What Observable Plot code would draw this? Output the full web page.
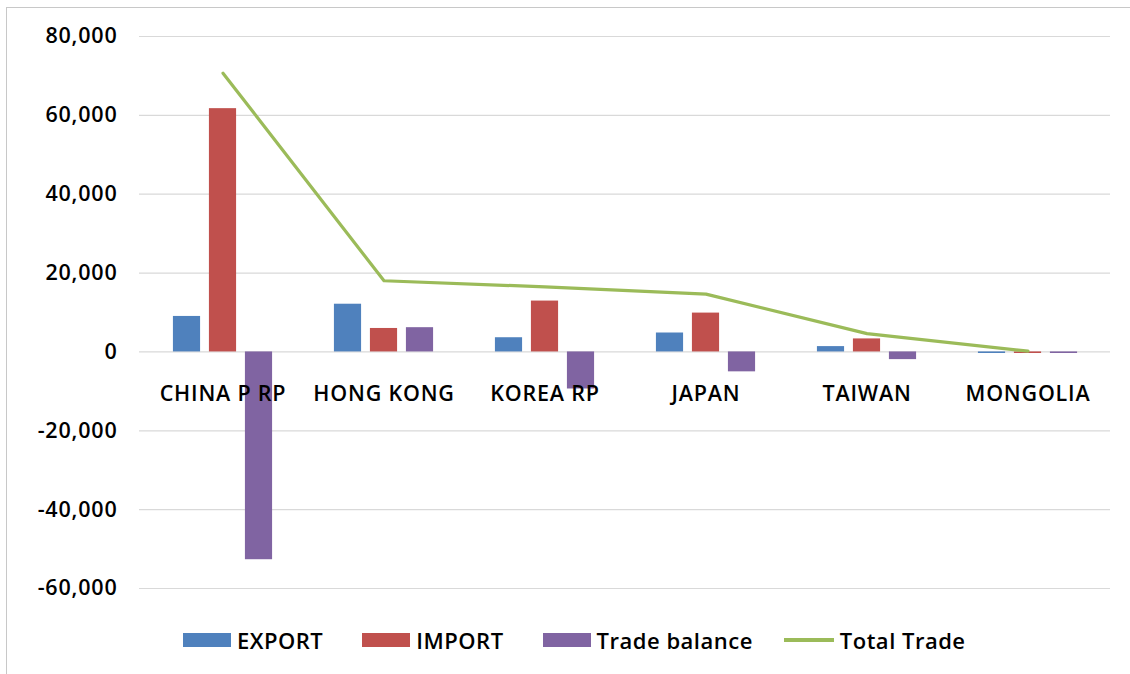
<!DOCTYPE html>
<html>
<head>
<meta charset="utf-8">
<script src="https://cdn.jsdelivr.net/npm/d3@7"></script>
<script src="https://cdn.jsdelivr.net/npm/@observablehq/plot@0.6"></script>
<style>
  html, body { margin: 0; padding: 0; background: #fff; }
  #wrap { position: relative; width: 1130px; height: 674px; overflow: hidden; font-family: "Open Sans", sans-serif; }
  #frame { position: absolute; left: 6px; top: 7px; width: 1200px; height: 700px; border-left: 1px solid #c8c8c8; border-top: 1px solid #c8c8c8; }
  #chart { position: absolute; left: 0; top: 0; }
  #legend { position: absolute; left: 183px; top: 625px; display: flex; align-items: center; font-family: "Open Sans", sans-serif; font-weight: 600; font-size: 22px; letter-spacing: 0.5px; color: #000; }
  .item { display: flex; align-items: center; margin-right: 39px; }
  .sw { width: 48px; height: 14px; margin-right: 6px; }
  .ln { width: 50px; height: 4px; margin-right: 6px; }
</style>
</head>
<body>
<div id="wrap">
  <div id="frame"></div>
  <div id="chart"></div>
  <div id="legend"></div>
</div>
<script>
const categories = ["CHINA P RP", "HONG KONG", "KOREA RP", "JAPAN", "TAIWAN", "MONGOLIA"];
const exportVals  = [9000, 12100, 3600, 4800, 1350, -400];
const importVals  = [61700, 5950, 12900, 9850, 3300, -400];
const balanceVals = [-52700, 6150, -9400, -5050, -1950, -400];
const totalVals   = [70700, 18050, 16500, 14650, 4650, 200];
const yTicks = [-60000, -40000, -20000, 0, 20000, 40000, 60000, 80000];
const seriesNames = ["EXPORT", "IMPORT", "Trade balance", "Total Trade"];
const colors = ["#4F81BD", "#C0504D", "#8064A2", "#9BBB59"];

const rows = (vals) => categories.map((c, i) => ({cat: c, value: vals[i]}));
const fmt = d3.formatLocale({decimal: ".", thousands: ",", grouping: [3], currency: ["", ""], minus: "-"}).format(",");

const W = 1130, H = 600;
const mL = 139, mR = 20, mT = 36, mB = 12;
const bw = (W - mL - mR) / categories.length;
const barW = 28, gap = 8;
// offsets of each bar's left edge relative to band center
const offs = [-1.5 * barW - gap, -0.5 * barW, 0.5 * barW + gap];
const inset = (k) => ({insetLeft: bw / 2 + offs[k], insetRight: bw / 2 - offs[k] - barW});

const plot = Plot.plot({
  width: W, height: H,
  marginLeft: mL, marginRight: mR, marginTop: mT, marginBottom: mB,
  style: {fontFamily: "Open Sans, sans-serif", fontSize: "21.5px", fontWeight: 600, color: "#000", background: "transparent", letterSpacing: "0.8px"},
  x: {domain: categories, padding: 0, axis: null},
  y: {domain: [-60000, 80000], ticks: yTicks, tickFormat: fmt, tickSize: 0, tickPadding: 22, label: null},
  marks: [
    Plot.ruleY(yTicks, {stroke: "#d9d9d9", strokeWidth: 1.2}),
    Plot.barY(rows(exportVals), {x: "cat", y: "value", fill: colors[0], ...inset(0)}),
    Plot.barY(rows(importVals), {x: "cat", y: "value", fill: colors[1], ...inset(1)}),
    Plot.barY(rows(balanceVals), {x: "cat", y: "value", fill: colors[2], ...inset(2)}),
    Plot.line(rows(totalVals), {x: "cat", y: "value", stroke: colors[3], strokeWidth: 3.2}),
    Plot.text(categories, {x: d => d, y: () => 0, text: d => d, dy: 42, fill: "#000"})
  ]
});
document.getElementById("chart").appendChild(plot);

const legend = document.getElementById("legend");
seriesNames.forEach((name, i) => {
  const item = document.createElement("div");
  item.className = "item";
  if (i === 2) item.style.marginRight = "31px";
  const sw = document.createElement("div");
  sw.className = i === 3 ? "ln" : "sw";
  sw.style.background = colors[i];
  const t = document.createElement("span");
  t.textContent = name;
  item.appendChild(sw);
  item.appendChild(t);
  legend.appendChild(item);
});
</script>
</body>
</html>
